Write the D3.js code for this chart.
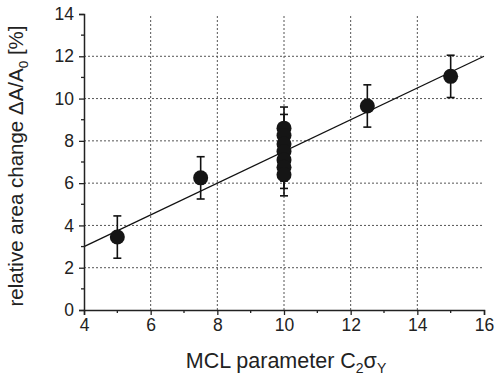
<!DOCTYPE html>
<html>
<head>
<meta charset="utf-8">
<script src="https://cdn.jsdelivr.net/npm/d3@7"></script>
<style>
  body { margin: 0; background: #fff; }
  svg { display: block; font-family: "Liberation Sans", Arial, sans-serif; }
</style>
</head>
<body>
<svg id="chart" width="502" height="382"></svg>
<script>
// Measured area change against the MCL parameter
const xValues = [5, 7.5, 10, 10, 10, 10, 10, 10, 10, 12.5, 15];
const yValues = [3.45, 6.25, 8.6, 8.25, 7.85, 7.5, 7.1, 6.75, 6.4, 9.65, 11.05];
const yErrors = [1, 1, 1, 1, 1, 1, 1, 1, 1, 1, 1];

// Linear fit drawn across the full x range
const fitSlope = 0.75;
const fitIntercept = 0;

const xTicks = [4, 6, 8, 10, 12, 14, 16];
const yTicks = [0, 2, 4, 6, 8, 10, 12, 14];
const xMinorTicks = [5, 7, 9, 11, 13, 15];
const yMinorTicks = [1, 3, 5, 7, 9, 11, 13];

const svg = d3.select("#chart");
const margin = { left: 84, right: 18, top: 14, bottom: 72 };
const W = 502, H = 382;

const x = d3.scaleLinear().domain([4, 16]).range([margin.left, W - margin.right]);
const y = d3.scaleLinear().domain([0, 14]).range([H - margin.bottom, margin.top]);

// Grid
const grid = svg.append("g").attr("stroke", "#555").attr("stroke-width", 1)
  .attr("stroke-dasharray", "2,2");
grid.selectAll(".gx").data(xTicks.slice(1, -1)).join("line")
  .attr("x1", d => x(d)).attr("x2", d => x(d))
  .attr("y1", y(0)).attr("y2", y(14));
grid.selectAll(".gy").data(yTicks.slice(1, -1)).join("line")
  .attr("x1", x(4)).attr("x2", x(16))
  .attr("y1", d => y(d)).attr("y2", d => y(d));

// Fit line
svg.append("line")
  .attr("x1", x(4)).attr("y1", y(fitSlope * 4 + fitIntercept))
  .attr("x2", x(16)).attr("y2", y(fitSlope * 16 + fitIntercept))
  .attr("stroke", "#111").attr("stroke-width", 1.3);

// Axes
const xAxis = d3.axisBottom(x).tickValues(xTicks).tickSize(5).tickPadding(4).tickFormat(d3.format("d"));
const yAxis = d3.axisLeft(y).tickValues(yTicks).tickSize(5).tickPadding(5).tickFormat(d3.format("d"));

const gx = svg.append("g").attr("transform", `translate(0,${y(0)})`).call(xAxis);
const gy = svg.append("g").attr("transform", `translate(${x(4)},0)`).call(yAxis);
[gx, gy].forEach(g => {
  g.select(".domain").attr("stroke", "#222").attr("stroke-width", 1.5);
  g.selectAll(".tick line").attr("stroke", "#222").attr("stroke-width", 1.3);
  g.selectAll(".tick text").attr("font-size", 17.5).attr("fill", "#222")
    .attr("font-family", "Liberation Sans, Arial, sans-serif");
});

// Minor ticks
svg.append("g").selectAll("line").data(xMinorTicks).join("line")
  .attr("x1", d => x(d)).attr("x2", d => x(d))
  .attr("y1", y(0)).attr("y2", y(0) + 3)
  .attr("stroke", "#222").attr("stroke-width", 1.3);
svg.append("g").selectAll("line").data(yMinorTicks).join("line")
  .attr("x1", x(4)).attr("x2", x(4) - 3)
  .attr("y1", d => y(d)).attr("y2", d => y(d))
  .attr("stroke", "#222").attr("stroke-width", 1.3);

// Error bars
const pts = xValues.map((d, i) => ({ x: d, y: yValues[i], e: yErrors[i] }));
const eb = svg.append("g").attr("stroke", "#111").attr("stroke-width", 1.6);
pts.forEach(p => {
  eb.append("line").attr("x1", x(p.x)).attr("x2", x(p.x))
    .attr("y1", y(p.y - p.e)).attr("y2", y(p.y + p.e));
  [p.y - p.e, p.y + p.e].forEach(v => {
    eb.append("line").attr("x1", x(p.x) - 4).attr("x2", x(p.x) + 4)
      .attr("y1", y(v)).attr("y2", y(v));
  });
});

// Markers
svg.append("g").selectAll("circle").data(pts).join("circle")
  .attr("cx", d => x(d.x)).attr("cy", d => y(d.y)).attr("r", 7.5)
  .attr("fill", "#151515");

// Axis titles
const xt = svg.append("text")
  .attr("x", (x(4) + x(16)) / 2 + 2).attr("y", 368)
  .attr("text-anchor", "middle").attr("font-size", 21.5).attr("fill", "#222");
xt.append("tspan").text("MCL parameter C");
xt.append("tspan").attr("font-size", 14).attr("dy", 5).text("2");
xt.append("tspan").attr("dy", -5).text("σ");
xt.append("tspan").attr("font-size", 14).attr("dy", 5).text("Y");

const yt = svg.append("text")
  .attr("transform", `translate(23,${(y(0) + y(14)) / 2 + 4}) rotate(-90)`)
  .attr("text-anchor", "middle").attr("font-size", 20.5).attr("fill", "#222");
yt.append("tspan").text("relative area change ΔA/A");
yt.append("tspan").attr("font-size", 13.5).attr("dy", 5).text("0");
yt.append("tspan").attr("dy", -5).text(" [%]");
</script>
</body>
</html>
